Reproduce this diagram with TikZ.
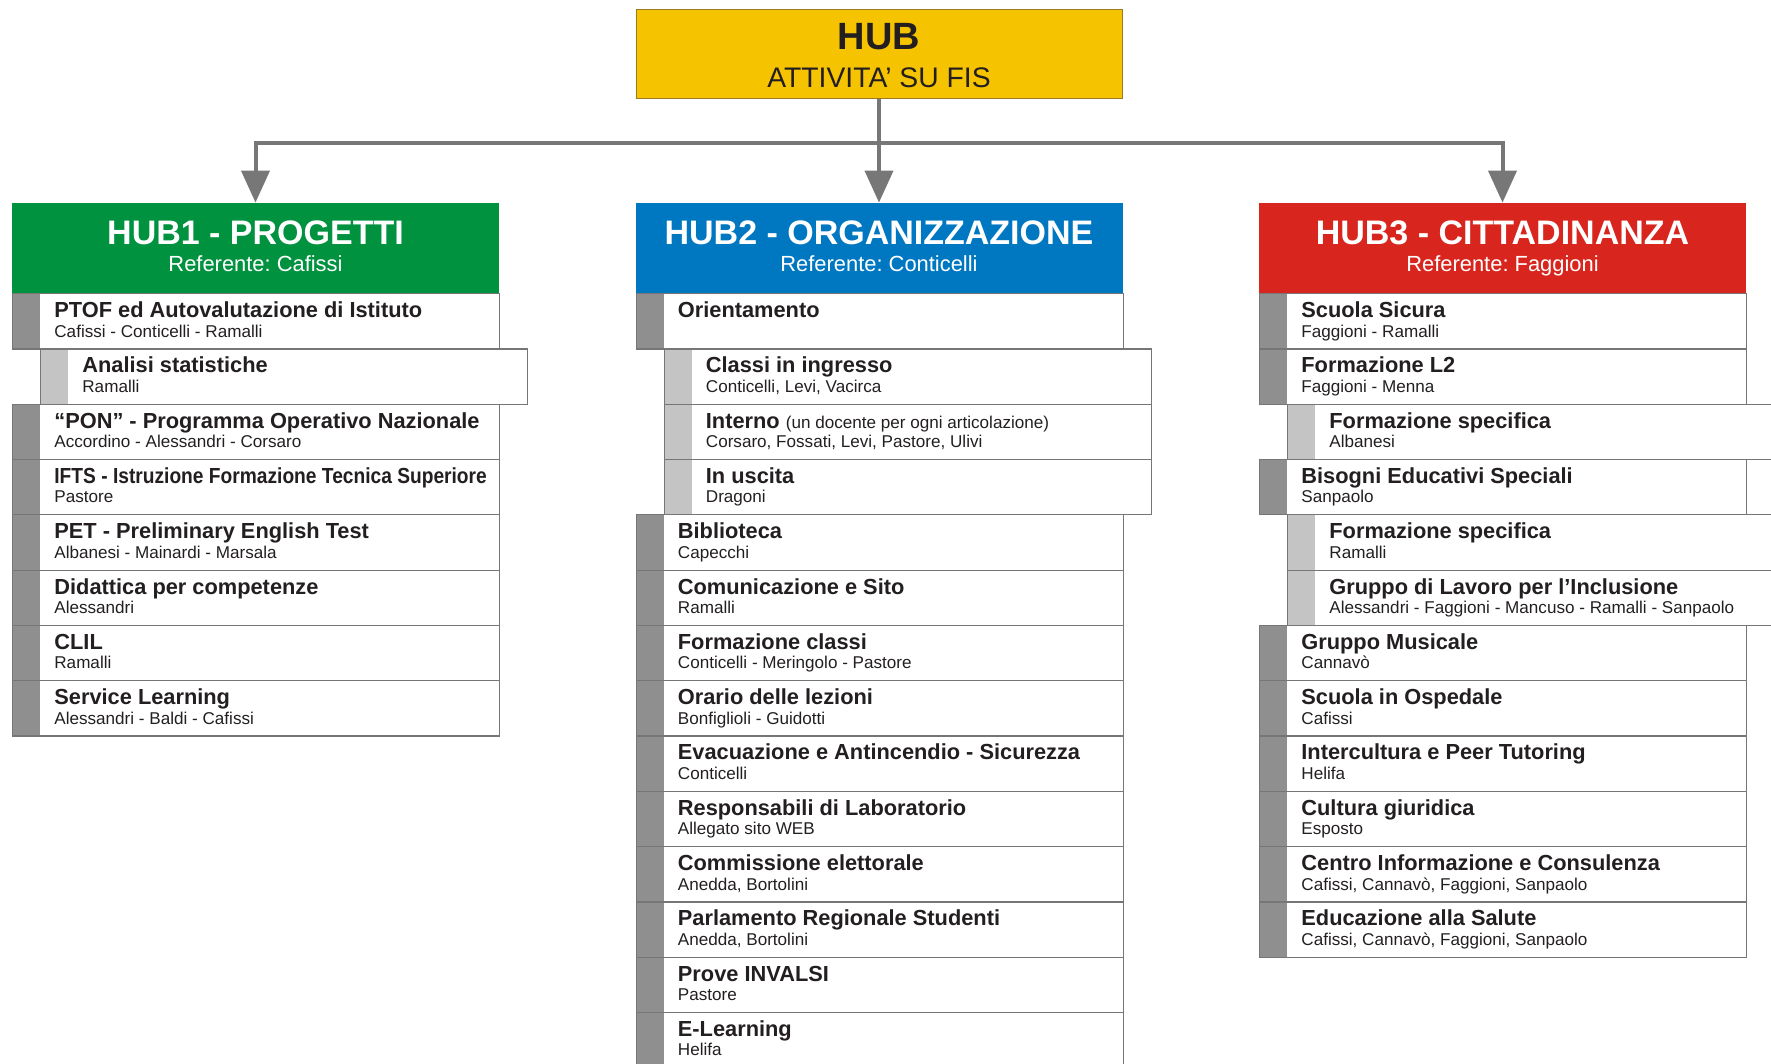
\documentclass[tikz,border=0pt]{standalone}
\usepackage{fontspec}
\setmainfont{Liberation Sans}
\usepackage{graphicx}
\usetikzlibrary{arrows.meta}
\frenchspacing

\definecolor{hubyellow}{HTML}{F6C300}
\definecolor{hubedge}{HTML}{9A7B22}
\definecolor{hubgreen}{HTML}{00923F}
\definecolor{hubblue}{HTML}{0078C1}
\definecolor{hubred}{HTML}{D8251D}
\definecolor{bardark}{HTML}{8F8F8F}
\definecolor{barlight}{HTML}{C4C4C4}
\definecolor{rowline}{HTML}{767676}
\definecolor{linkgray}{HTML}{777777}
\definecolor{ink}{HTML}{231F20}

% one column of activities: name, left x, list of level/title/people
\newcommand{\hubrows}[3]{%
	\foreach \lvl/\ttl/\who [count=\i from 0] in {#3} {
		\pgfmathsetmacro{\rx}{#2+\lvl*barw}
		\pgfmathsetmacro{\ry}{rowtop+\i*rowh}
		\node[sidebar\lvl] (#1-\i-bar) at (\rx,\ry) {};
		\node[rowbox] (#1-\i) at (\rx,\ry) {};
		\node[ttl] (#1-\i-t) at (\rx+barw+14,\ry+24.5) {\ttl};
		\node[who] (#1-\i-w) at (\rx+barw+14,\ry+44) {\who};
	}}

\begin{document}
\begin{tikzpicture}[
		x=0.5pt, y=-0.5pt,
		declare function = {
				rowh = 55.3;
				barw = 28;
				rowtop = 293;
			},
		topbox/.style = {draw=hubedge, line width=0.5pt, fill=hubyellow, minimum width=243pt, minimum height=44.75pt, inner sep=0pt},
		hubbox/.style = {fill=#1, minimum width=243.5pt, minimum height=45pt, inner sep=0pt},
		rowbox/.style = {draw=rowline, line width=0.6pt, anchor=north west, minimum width=243.5pt, minimum height=27.65pt, inner sep=0pt},
		sidebar0/.style = {fill=bardark, anchor=north west, minimum width=14pt, minimum height=27.65pt, inner sep=0pt},
		sidebar1/.style = {fill=barlight, anchor=north west, minimum width=14pt, minimum height=27.65pt, inner sep=0pt},
		ttl/.style = {anchor=base west, inner sep=0pt, text=ink, font=\fontsize{10.9}{13}\selectfont\bfseries},
		who/.style = {anchor=base west, inner sep=0pt, text=ink, font=\fontsize{8.55}{10}\selectfont},
		hubtitle/.style = {anchor=base, inner sep=0pt, text=white, font=\fontsize{17}{20}\selectfont\bfseries},
		hubref/.style = {anchor=base, inner sep=0pt, text=white, font=\fontsize{10.95}{13}\selectfont},
		link/.style = {draw=linkgray, line width=2pt, -{Triangle[width=14pt,length=16pt]}},
	]
	\path[use as bounding box] (0,0) rectangle (1771,1064);

	% main box
	\node[topbox] (hub) at (879,54.25) {};
	\node[anchor=base, inner sep=0pt, text=ink, font=\fontsize{19}{23}\selectfont\bfseries] (hub-t) at (879,50) {HUB};
	\node[anchor=base, inner sep=0pt, text=ink, font=\fontsize{14.15}{17}\selectfont] (hub-s) at (879,87.3) {ATTIVITA’ SU FIS};

	% the three hubs
	\node[hubbox=hubgreen] (h1) at (255.5,248) {};
	\node[hubtitle] (h1-t) at (255.5,244) {HUB1 - PROGETTI};
	\node[hubref] (h1-r) at (255.5,271.7) {Referente: Cafissi};

	\node[hubbox=hubblue] (h2) at (879,248) {};
	\node[hubtitle] (h2-t) at (879,244) {HUB2 - ORGANIZZAZIONE};
	\node[hubref] (h2-r) at (879,271.7) {Referente: Conticelli};

	\node[hubbox=hubred] (h3) at (1502.5,248) {};
	\node[hubtitle] (h3-t) at (1502.5,244) {HUB3 - CITTADINANZA};
	\node[hubref] (h3-r) at (1502.5,271.7) {Referente: Faggioni};

	\coordinate (split) at (879,143);
	\draw[link] (hub) -- (h2);
	\draw[link] (split) -| (h1);
	\draw[link] (split) -| (h3);

	\hubrows{p}{12}{
		0/{PTOF ed Autovalutazione di Istituto}/{Cafissi - Conticelli - Ramalli},
		1/{Analisi statistiche}/{Ramalli},
		0/{“PON” - Programma Operativo Nazionale}/{Accordino - Alessandri - Corsaro},
		0/{\scalebox{0.88}[1]{IFTS - Istruzione Formazione Tecnica Superiore}}/{Pastore},
		0/{PET - Preliminary English Test}/{Albanesi - Mainardi - Marsala},
		0/{Didattica per competenze}/{Alessandri},
		0/{CLIL}/{Ramalli},
		0/{Service Learning}/{Alessandri - Baldi - Cafissi}}

	\hubrows{o}{635.5}{
		0/{Orientamento}/{},
		1/{Classi in ingresso}/{Conticelli, Levi, Vacirca},
		1/{Interno {\mdseries\fontsize{8.55}{10}\selectfont (un docente per ogni articolazione)}}/{Corsaro, Fossati, Levi, Pastore, Ulivi},
		1/{In uscita}/{Dragoni},
		0/{Biblioteca}/{Capecchi},
		0/{Comunicazione e Sito}/{Ramalli},
		0/{Formazione classi}/{Conticelli - Meringolo - Pastore},
		0/{Orario delle lezioni}/{Bonfiglioli - Guidotti},
		0/{Evacuazione e Antincendio - Sicurezza}/{Conticelli},
		0/{Responsabili di Laboratorio}/{Allegato sito WEB},
		0/{Commissione elettorale}/{Anedda, Bortolini},
		0/{Parlamento Regionale Studenti}/{Anedda, Bortolini},
		0/{Prove INVALSI}/{Pastore},
		0/{E-Learning}/{Helifa}}

	\hubrows{c}{1259}{
		0/{Scuola Sicura}/{Faggioni - Ramalli},
		0/{Formazione L2}/{Faggioni - Menna},
		1/{Formazione specifica}/{Albanesi},
		0/{Bisogni Educativi Speciali}/{Sanpaolo},
		1/{Formazione specifica}/{Ramalli},
		1/{Gruppo di Lavoro per l’Inclusione}/{Alessandri - Faggioni - Mancuso - Ramalli - Sanpaolo},
		0/{Gruppo Musicale}/{Cannavò},
		0/{Scuola in Ospedale}/{Cafissi},
		0/{Intercultura e Peer Tutoring}/{Helifa},
		0/{Cultura giuridica}/{Esposto},
		0/{Centro Informazione e Consulenza}/{Cafissi, Cannavò, Faggioni, Sanpaolo},
		0/{Educazione alla Salute}/{Cafissi, Cannavò, Faggioni, Sanpaolo}}
\end{tikzpicture}
\end{document}
